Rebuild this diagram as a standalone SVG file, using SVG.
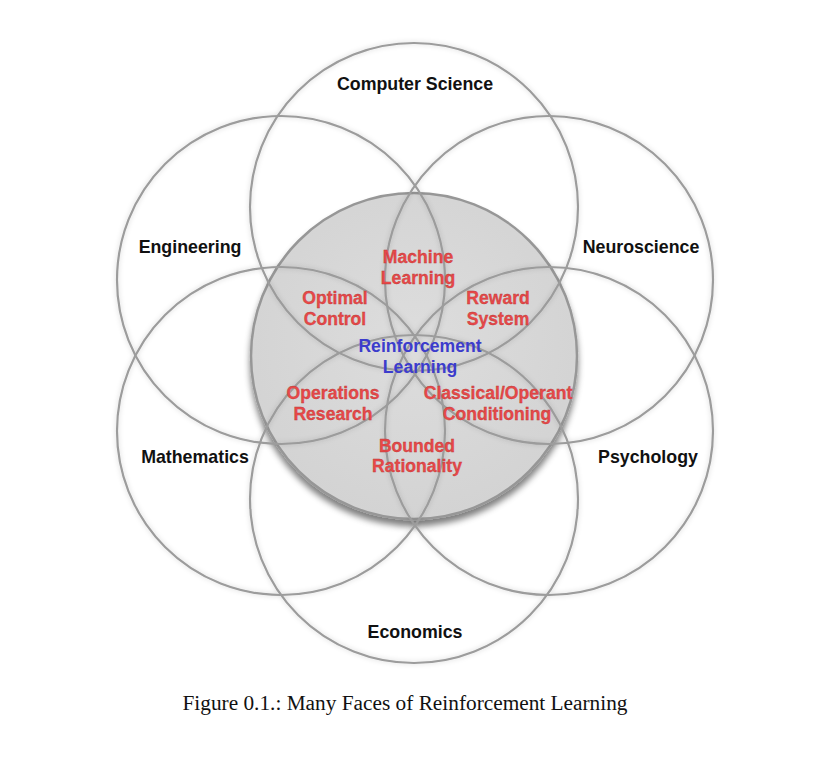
<svg xmlns="http://www.w3.org/2000/svg" width="827" height="766" viewBox="0 0 827 766">
<defs>
<filter id="soft" x="-20%" y="-20%" width="140%" height="140%">
<feGaussianBlur in="SourceAlpha" stdDeviation="2.5" result="b"/>
<feFlood flood-color="#000" flood-opacity="0.18"/>
<feComposite in2="b" operator="in" result="s"/>
<feMerge><feMergeNode in="s"/><feMergeNode in="SourceGraphic"/></feMerge>
</filter>
<filter id="shadow" x="-20%" y="-20%" width="140%" height="140%">
<feGaussianBlur in="SourceAlpha" stdDeviation="3" result="b"/>
<feOffset in="b" dx="0" dy="6" result="o"/>
<feFlood flood-color="#000" flood-opacity="0.5"/>
<feComposite in2="o" operator="in" result="s"/>
<feMerge><feMergeNode in="s"/><feMergeNode in="SourceGraphic"/></feMerge>
</filter>
<radialGradient id="core" cx="50%" cy="45%" r="55%">
<stop offset="0" stop-color="#dddddd"/>
<stop offset="1" stop-color="#d3d3d3"/>
</radialGradient>
</defs>
<style>
.ring{fill:none;stroke:#9c9c9c;stroke-width:2.2}
.field{font-family:"Liberation Sans",Arial,sans-serif;font-weight:bold;font-size:17.8px;fill:#111;text-anchor:middle}
.sub{font-family:"Liberation Sans",Arial,sans-serif;font-weight:bold;font-size:17.6px;fill:#e84848;text-anchor:middle;stroke:#b83a3a;stroke-width:0.3}
.rl{font-family:"Liberation Sans",Arial,sans-serif;font-weight:bold;font-size:17.6px;fill:#3c3ccc;text-anchor:middle}
.cap{font-family:"Liberation Serif","Times New Roman",serif;font-size:20px;fill:#111;text-anchor:middle}
</style>
<rect width="827" height="766" fill="#fff"/>
<g id="rl-core" filter="url(#shadow)">
<circle cx="414" cy="356" r="163" fill="url(#core)" stroke="#979797" stroke-width="2.5"/>
</g>
<g filter="url(#soft)">
<g id="computer-science"><circle class="ring" cx="414" cy="207" r="164"/></g>
<g id="engineering"><circle class="ring" cx="281" cy="280" r="164"/></g>
<g id="neuroscience"><circle class="ring" cx="549" cy="280" r="164"/></g>
<g id="mathematics"><circle class="ring" cx="281" cy="431" r="164"/></g>
<g id="psychology"><circle class="ring" cx="549" cy="431" r="164"/></g>
<g id="economics"><circle class="ring" cx="414" cy="499" r="164"/></g>
</g>
<g id="field-labels">
<text class="field" x="415" y="90">Computer Science</text>
<text class="field" x="190" y="253">Engineering</text>
<text class="field" x="641" y="253">Neuroscience</text>
<text class="field" x="195" y="463">Mathematics</text>
<text class="field" x="648" y="463">Psychology</text>
<text class="field" x="415" y="638">Economics</text>
</g>
<g id="sub-labels">
<text class="sub" x="418" y="263">Machine</text>
<text class="sub" x="418" y="284">Learning</text>
<text class="sub" x="335" y="304">Optimal</text>
<text class="sub" x="335" y="325">Control</text>
<text class="sub" x="498" y="304">Reward</text>
<text class="sub" x="498" y="325">System</text>
<text class="sub" x="333" y="399">Operations</text>
<text class="sub" x="333" y="420">Research</text>
<text class="sub" x="498" y="399">Classical/Operant</text>
<text class="sub" x="497" y="420">Conditioning</text>
<text class="sub" x="417" y="452">Bounded</text>
<text class="sub" x="417" y="472">Rationality</text>
</g>
<g id="reinforcement-learning">
<text class="rl" x="420" y="352">Reinforcement</text>
<text class="rl" x="420" y="373">Learning</text>
</g>
<text class="cap" x="405" y="710" textLength="445" lengthAdjust="spacingAndGlyphs">Figure 0.1.: Many Faces of Reinforcement Learning</text>
</svg>
